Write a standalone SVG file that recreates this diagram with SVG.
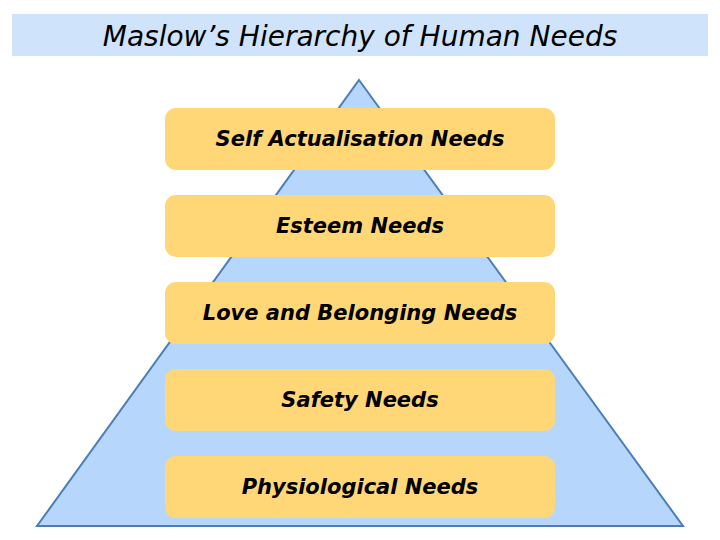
<svg xmlns="http://www.w3.org/2000/svg" width="720" height="540" viewBox="0 0 720 540">
<style>
.box{fill:#ffd777;}
.lbl{font-family:"DejaVu Sans",Verdana,sans-serif;font-weight:bold;font-style:italic;font-size:21px;fill:#000;text-anchor:middle;dominant-baseline:central;}
</style>
<rect width="720" height="540" fill="#fff"/>
<g id="title">
<rect x="12" y="14" width="696" height="42" fill="#cfe3fa"/>
<text x="360" y="36" font-family="DejaVu Sans,Verdana,sans-serif" font-style="italic" font-size="28" text-anchor="middle" dominant-baseline="central">Maslow’s Hierarchy of Human Needs</text>
</g>
<g id="pyramid"><polygon points="359,80 683,526 37,526" fill="#b7d6fb" stroke="#4a7ebb" stroke-width="2"/></g>
<g id="n1"><rect class="box" x="165" y="108" width="390" height="62" rx="11"/><text class="lbl" x="360" y="139">Self Actualisation Needs</text></g>
<g id="n2"><rect class="box" x="165" y="195" width="390" height="62" rx="11"/><text class="lbl" x="360" y="226">Esteem Needs</text></g>
<g id="n3"><rect class="box" x="165" y="282" width="390" height="62" rx="11"/><text class="lbl" x="360" y="313">Love and Belonging Needs</text></g>
<g id="n4"><rect class="box" x="165" y="369" width="390" height="62" rx="11"/><text class="lbl" x="360" y="400">Safety Needs</text></g>
<g id="n5"><rect class="box" x="165" y="456" width="390" height="62" rx="11"/><text class="lbl" x="360" y="487">Physiological Needs</text></g>
<g id="connectors"/>
</svg>
